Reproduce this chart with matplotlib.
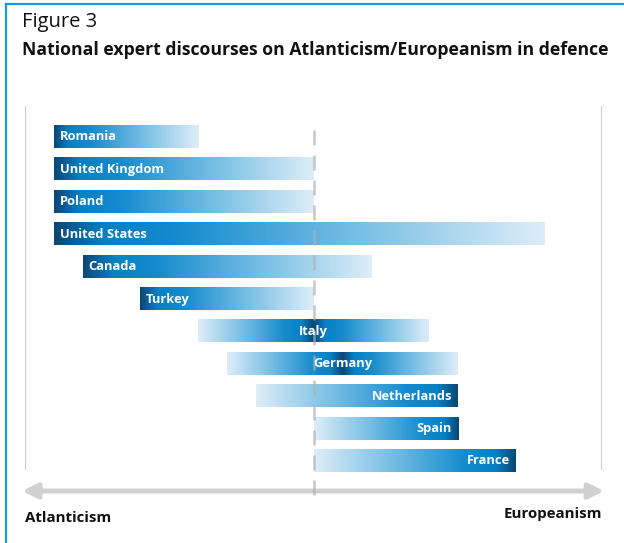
import numpy as np
import matplotlib
matplotlib.use("Agg")
import matplotlib.pyplot as plt
from matplotlib.colors import LinearSegmentedColormap
from matplotlib.lines import Line2D

plt.rcParams['font.family'] = ['Open Sans', 'DejaVu Sans']

# data: discourse range per country on the Atlanticism (-) / Europeanism (+) scale
countries = ['Romania', 'United Kingdom', 'Poland', 'United States', 'Canada', 'Turkey',
             'Italy', 'Germany', 'Netherlands', 'Spain', 'France']
starts = [-9, -9, -9, -9, -8, -6, -4, -3, -2, 0, 0]
ends = [-4, 0, 0, 8, 2, 0, 4, 5, 5, 5, 7]
# where the dark end of the gradient sits
anchors = ['left', 'left', 'left', 'left', 'left', 'left',
           'centre', 'centre', 'right', 'right', 'right']

W, H = 624, 543
fig = plt.figure(figsize=(W / 100, H / 100), dpi=100)

# axes in pixel terms: x -10..10 -> 25..602 px, row i centre -> 137 + 32.4*i px
row_px, row0 = 32.4, 137
top_px, bot_px = 100, 530
ax = fig.add_axes([25 / W, (H - bot_px) / H, 577 / W, (bot_px - top_px) / H])
ax.set_xlim(-10, 10)
ax.set_ylim((bot_px - row0) / row_px, (top_px - row0) / row_px)
ax.axis('off')

cmap = LinearSegmentedColormap.from_list('blues', [
    (0.0, '#0b4775'), (0.10, '#0680c4'), (0.25, '#148bce'),
    (0.6, '#72bce3'), (1.0, '#deedf8')])

bar_h = 0.68
grey = '#d0d0d0'

# outer grey guides
for gx in (-10, 10):
    ax.plot([gx, gx], [-0.96, 10.28], color=grey, lw=1.6, solid_capstyle='butt')

for i, (name, s, e, a) in enumerate(zip(countries, starts, ends, anchors)):
    t = np.linspace(0, 1, 256)
    if a == 'left':
        vals = t
    elif a == 'right':
        vals = 1 - t
    else:
        vals = np.abs(t - 0.5) * 2
    ax.imshow(vals[np.newaxis, :], cmap=cmap, vmin=0, vmax=1, aspect='auto',
              extent=(s, e, i + bar_h / 2, i - bar_h / 2), interpolation='bilinear', zorder=2)
    if a == 'left':
        ax.text(s + 0.2, i, name, ha='left', va='center', color='white',
                fontsize=9.3, fontweight='bold', zorder=4)
    elif a == 'right':
        ax.text(e - 0.2, i, name, ha='right', va='center', color='white',
                fontsize=9.3, fontweight='bold', zorder=4)
    else:
        ax.text((s + e) / 2, i, name, ha='center', va='center', color='white',
                fontsize=9.3, fontweight='bold', zorder=4)

# dashed centre line
ax.plot([0, 0], [-0.22, 11.2], color='#b0b0b0', lw=1.8, alpha=0.7,
        dashes=(6, 4), zorder=3)

# double-headed axis arrow
ya = (491 - row0) / row_px
ax.annotate('', xy=(-10.1, ya), xytext=(10.07, ya), annotation_clip=False,
            arrowprops=dict(arrowstyle='<|-|>,head_length=0.9,head_width=0.45',
                            color=grey, lw=3.5, shrinkA=0, shrinkB=0), zorder=1)

ax.text(-10, (518 - row0) / row_px, 'Atlanticism', ha='left', va='center',
        fontsize=10.8, fontweight='bold', color='#111111')
ax.text(10, (514 - row0) / row_px, 'Europeanism', ha='right', va='center',
        fontsize=10.8, fontweight='bold', color='#111111')

# titles
fig.text(22 / W, 1 - 22 / H, 'Figure 3', ha='left', va='center', fontsize=14.5, color='#111111')
fig.text(22 / W, 1 - 50 / H, 'National expert discourses on Atlanticism/Europeanism in defence',
         ha='left', va='center', fontsize=12.7, fontweight='bold', color='#111111')

# blue frame (top and left)
blue = '#1b9ad7'
fig.add_artist(Line2D([6 / W, 1], [1 - 4 / H, 1 - 4 / H], color=blue, lw=1.6))
fig.add_artist(Line2D([6 / W, 6 / W], [0, 1 - 4 / H], color=blue, lw=1.6))

fig.savefig('out.png', dpi=100)
